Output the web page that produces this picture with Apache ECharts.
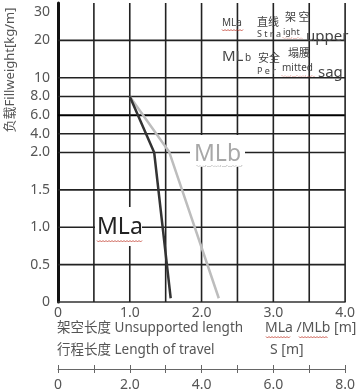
<!DOCTYPE html>
<html><head><meta charset="utf-8">
<script src="https://cdn.jsdelivr.net/npm/echarts@6/dist/echarts.min.js"></script>
<style>html,body{margin:0;padding:0;background:#fff}#c{width:358px;height:392px}</style>
</head><body><div id="c"></div>
<script>
// ---- data ----
const yTickValues = [0, 0.5, 1, 1.5, 2, 4, 6, 8, 10, 20, 30];
const yTickLabels = ['0', '0.5', '1.0', '1.5', '2.0', '4.0', '6.0', '8.0', '10', '20', '30'];
const xTickValues = [0, 1, 2, 3, 4];
const xTickLabels = ['0', '1.0', '2.0', '3.0', '4.0'];
const sTickValues = [0, 2, 4, 6, 8];
const sTickLabels = ['0', '2.0', '4.0', '6.0', '8.0'];
const mlaX = [1.0, 1.34, 1.57];
const mlaY = [8.0, 2.0, 0.05];
const mlbX = [1.0, 1.55, 2.24];
const mlbY = [8.0, 2.05, 0.05];

// piecewise (non-uniform) scale of the load axis
const brkV = [0, 2, 10, 20, 30], brkP = [0, 4, 6, 7, 7.75];
const Y_TOP = 8, X_MAX = 4;
function yPos(v) {
  for (let i = 1; i < brkV.length; i++) {
    if (v <= brkV[i]) {
      const t = (v - brkV[i - 1]) / (brkV[i] - brkV[i - 1]);
      return brkP[i - 1] + t * (brkP[i] - brkP[i - 1]);
    }
  }
  return brkP[brkP.length - 1];
}
function labelFor(vals, labels, p, mapper) {
  for (let i = 0; i < vals.length; i++) if (Math.abs(mapper(vals[i]) - p) < 1e-6) return labels[i];
  return '';
}

const FONT = '"Noto Sans", "Noto Sans CJK SC", sans-serif';
const CJK = '"Noto Sans CJK SC", "Noto Sans", sans-serif';

function wavy(x1, x2, y, color, dotted) {
  const pts = [];
  for (let x = x1, k = 0; x <= x2; x += 1.5, k++) pts.push([x, y + (k % 2 ? 1 : -0.5)]);
  return { type: 'polyline', shape: { points: pts }, style: { stroke: color, lineWidth: 0.8, fill: null, lineDash: dotted ? [1, 2] : null }, z: 20, silent: true };
}
function txt(x, y, s, size, color, font) {
  return { type: 'text', x: x, y: y, z: 20, silent: true,
    style: { text: s, font: size + 'px ' + (font || FONT), fill: color, align: 'left', verticalAlign: 'middle' } };
}

const chart = echarts.init(document.getElementById('c'));
const yPositions = yTickValues.map(yPos);

// grid lines: a custom series drawing each line through api.coord (the axes' scales)
const hVals = yTickValues.slice(1, yTickValues.length - 1);
const vVals = [];
for (let k = 1; k <= 8; k++) vVals.push(k * 0.5);
const gridItems = hVals.map(v => ['h', yPos(v), v === 6 ? 1 : 0]).concat(vVals.map(v => ['v', v, 0]));

const series = [
  { type: 'custom', xAxisIndex: 0, yAxisIndex: 0, silent: true, z: 1, animation: false, clip: false,
    data: gridItems.map((g, i) => [i]),
    renderItem: function (params, api) {
      const g = gridItems[params.dataIndex];
      let a, b;
      if (g[0] === 'h') { a = api.coord([0, g[1]]); b = api.coord([X_MAX, g[1]]); }
      else { a = api.coord([g[1], 0]); b = api.coord([g[1], Y_TOP]); }
      return { type: 'line', shape: { x1: a[0], y1: a[1], x2: b[0], y2: b[1] },
        style: { stroke: g[2] ? '#000' : '#222', lineWidth: g[2] ? 2 : 1.6 } };
    } },
  { name: 'MLb', type: 'line', xAxisIndex: 0, showSymbol: false, symbol: 'none', z: 3,
    lineStyle: { color: '#bdbdbd', width: 2.5 },
    data: mlbX.map((x, i) => [x, yPos(mlbY[i])]) },
  { name: 'MLa', type: 'line', xAxisIndex: 0, showSymbol: false, symbol: 'none', z: 4,
    lineStyle: { color: '#333', width: 2.5 },
    data: mlaX.map((x, i) => [x, yPos(mlaY[i])]) }
];

chart.setOption({
  animation: false,
  backgroundColor: '#fff',
  grid: { left: 58, right: 3, top: 3, bottom: 90 },
  xAxis: [
    { type: 'value', min: 0, max: X_MAX, interval: 0.5, position: 'bottom',
      axisLine: { show: true, lineStyle: { color: '#333', width: 1.5 } },
      axisTick: { show: false },
      splitLine: { show: false },
      axisLabel: { margin: 4, fontSize: 14, color: '#555', fontFamily: FONT,
        formatter: v => labelFor(xTickValues, xTickLabels, v, a => a) } },
    { type: 'value', min: 0, max: 8, interval: 1, position: 'bottom', offset: 67,
      axisLine: { show: true, lineStyle: { color: '#666', width: 1 } },
      axisTick: { show: true, length: 4, lineStyle: { color: '#666' } },
      splitLine: { show: false },
      axisLabel: { margin: 9, fontSize: 14, color: '#555', fontFamily: FONT,
        formatter: v => labelFor(sTickValues, sTickLabels, v, a => a) } },
    { type: 'value', min: 0, max: 8, interval: 1, position: 'bottom', offset: 67,
      axisLine: { show: false },
      axisTick: { show: true, inside: true, length: 4, lineStyle: { color: '#666' } },
      splitLine: { show: false }, axisLabel: { show: false } }
  ],
  yAxis: {
    type: 'value', min: 0, max: Y_TOP,
    axisLine: { show: true, lineStyle: { color: '#111', width: 3 } },
    axisTick: { show: false },
    splitLine: { show: false },
    axisLabel: { customValues: yPositions, margin: 8, fontSize: 14, color: '#555', fontFamily: FONT,
      formatter: v => labelFor(yTickValues, yTickLabels, v, yPos) }
  },
  series: series,
  graphic: [
    // y axis title
    { type: 'text', x: 10, y: 70, rotation: Math.PI / 2, z: 20, silent: true,
      style: { text: '负载Fillweight[kg/m]', font: '13px ' + FONT, fill: '#555', align: 'center', verticalAlign: 'middle' } },
    // in-plot labels
    { type: 'rect', shape: { x: 95, y: 207, width: 47, height: 39 }, style: { fill: '#fff' }, z: 15, silent: true },
    txt(97, 227, 'MLa', 23, '#222'),
    wavy(97, 142, 241, '#c0392b'),
    { type: 'rect', shape: { x: 190, y: 135, width: 55, height: 32 }, style: { fill: '#fff' }, z: 15, silent: true },
    txt(194, 154, 'MLb', 23, '#a8a8a8'),
    wavy(197, 244, 166, '#555', true),
    // note, top right
    txt(222, 23, 'MLa', 10, '#444'), wavy(222, 243, 30, '#c0392b'),
    txt(257, 22, '直线', 11, '#444', CJK),
    txt(285, 17, '架 空', 11, '#444', CJK),
    txt(257, 34, 'S t r a', 9, '#444'),
    txt(283, 32, 'ight', 9, '#444'), wavy(283, 303, 38, '#c0392b', true),
    txt(306, 37, 'upper', 15, '#444'),
    txt(222, 57, 'ML', 15, '#444'), txt(245, 58, 'b', 10, '#444'),
    txt(258, 58, '安全', 11, '#444', CJK),
    txt(288, 53, '塌腰', 11, '#444', CJK),
    txt(257, 71, 'P e r', 9, '#444'),
    txt(282, 68, 'mitted', 10, '#444'), wavy(282, 315, 76, '#c0392b', true),
    txt(318, 73, 'sag', 15, '#444'),
    // axis captions
    txt(57, 328, '架空长度 Unsupported length', 13.5, '#555'),
    txt(265, 328, 'MLa /MLb [m]', 14, '#555'),
    wavy(266, 291, 337, '#c0392b'), wavy(299, 328, 337, '#c0392b'),
    txt(57, 350, '行程长度 Length of travel', 13.5, '#555'),
    txt(270, 350, 'S [m]', 14, '#555')
  ]
});
</script>
</body></html>
